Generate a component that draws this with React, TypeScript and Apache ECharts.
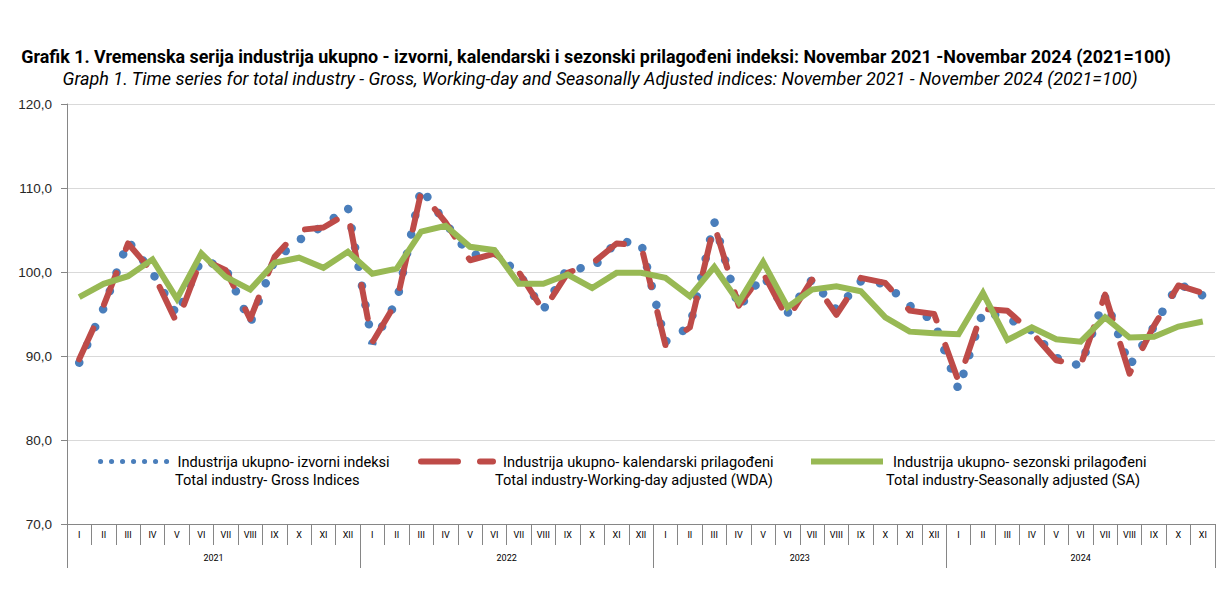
import React, { useEffect, useRef } from "react";
import * as echarts from "echarts";

const monthNames = ["I", "II", "III", "IV", "V", "VI", "VII", "VIII", "IX", "X", "XI", "XII"];
const years = ["2021", "2022", "2023", "2024"];
const monthsPerYear = [12, 12, 12, 11];

const grossIndex = [
  89.2, 95.7, 103.7, 99.9, 94.9, 101.5, 100.4, 93.9, 101.4, 103.8, 105.5, 107.7,
  91.5, 96.5, 110.0, 105.8, 102.0, 102.3, 99.8, 95.5, 100.5, 100.4, 103.6, 103.5,
  91.7, 93.5, 106.0, 95.7, 99.6, 95.1, 99.1, 95.5, 98.9, 98.6, 96.0, 94.1,
  86.0, 95.3, 94.5, 93.0, 89.8, 88.8, 97.0, 88.8, 93.5, 98.6, 97.2,
];
const wdaIndex = [
  89.6, 96.0, 103.4, 100.0, 93.9, 101.6, 100.2, 94.4, 101.8, 105.0, 105.3, 107.0,
  91.6, 96.5, 109.5, 105.9, 101.4, 102.2, 100.0, 95.4, 99.9, 101.0, 103.4, 103.2,
  91.3, 93.4, 105.6, 96.0, 99.9, 94.4, 99.1, 94.9, 99.3, 98.7, 95.4, 95.0,
  87.0, 95.6, 95.4, 92.8, 89.5, 88.9, 97.3, 87.9, 93.6, 98.4, 97.5,
];
const saIndex = [
  97.0, 98.6, 99.5, 101.5, 96.8, 102.2, 99.4, 97.9, 101.1, 101.7, 100.5, 102.4,
  99.8, 100.4, 104.8, 105.5, 103.0, 102.6, 98.6, 98.6, 99.7, 98.1, 99.9, 99.9,
  99.3, 97.1, 100.6, 96.4, 101.2, 95.8, 97.9, 98.3, 97.7, 94.6, 92.9, 92.7,
  92.6, 97.5, 91.9, 93.4, 92.0, 91.7, 94.6, 92.2, 92.3, 93.5, 94.1,
];

const nameGross = "Industrija ukupno- izvorni indeksi";
const nameWda = "Industrija ukupno- kalendarski prilagođeni";
const nameSa = "Industrija ukupno- sezonski prilagođeni";
const enGross = "Total industry- Gross Indices";
const enWda = "Total industry-Working-day adjusted (WDA)";
const enSa = "Total industry-Seasonally adjusted (SA)";

const titleText =
  "Grafik 1. Vremenska serija industrija ukupno - izvorni, kalendarski i sezonski prilagođeni indeksi: Novembar 2021 -Novembar 2024 (2021=100)";
const subtitleText =
  "Graph 1. Time series for total industry - Gross, Working-day and Seasonally Adjusted indices: November 2021 - November 2024 (2021=100)";

const BLUE = "#4a7ebb";
const RED = "#be4b48";
const GREEN = "#98b954";
const FONT = "Roboto, 'Liberation Sans', sans-serif";

export default function App() {
  const ref = useRef<HTMLDivElement>(null);

  useEffect(() => {
    if (!ref.current) return;
    const chart = echarts.init(ref.current, undefined, { renderer: "svg" });

    const categories: string[] = [];
    years.forEach((_, i) => categories.push(...monthNames.slice(0, monthsPerYear[i])));
    const yearBounds: number[] = [0];
    monthsPerYear.forEach((n) => yearBounds.push(yearBounds[yearBounds.length - 1] + n));
    const yearMids = years.map((_, i) => (yearBounds[i] + yearBounds[i + 1]) / 2);
    const total = yearBounds[yearBounds.length - 1];

    const legendBase = {
      top: 454,
      padding: 0,
      itemHeight: 14,
      itemGap: 0,
      selectedMode: false,
      textStyle: { fontSize: 14.6, fontFamily: FONT, color: "#000", padding: [0, 0, 0, 5] },
    };

    chart.setOption({
      animation: false,
      backgroundColor: "#fff",
      title: [
        {
          text: titleText,
          left: 596,
          textAlign: "center",
          top: 47,
          padding: 0,
          textStyle: { fontSize: 17.9, fontWeight: "bold", fontFamily: FONT, color: "#000" },
        },
        {
          text: subtitleText,
          left: 600,
          textAlign: "center",
          top: 69,
          padding: 0,
          textStyle: { fontSize: 18, fontWeight: "normal", fontStyle: "italic", fontFamily: FONT, color: "#000" },
        },
      ],
      legend: [
        {
          ...legendBase,
          left: 98,
          itemWidth: 67,
          data: [
            {
              name: nameGross,
              itemStyle: { opacity: 0 },
              lineStyle: { color: BLUE, width: 5, type: [0.1, 10.9], cap: "round" },
            },
          ],
        },
        {
          ...legendBase,
          left: 418,
          itemWidth: 72,
          data: [
            {
              name: nameWda,
              itemStyle: { opacity: 0 },
              lineStyle: { color: RED, width: 6, type: [37, 22], cap: "round" },
            },
          ],
        },
        {
          ...legendBase,
          left: 808,
          itemWidth: 72,
          data: [
            {
              name: nameSa,
              itemStyle: { opacity: 0 },
              lineStyle: { color: GREEN, width: 6, type: "solid" },
            },
          ],
        },
      ],
      graphic: [
        { type: "text", left: 175, top: 472, style: { text: enGross, fontSize: 14.6, fontFamily: FONT, fill: "#000" } },
        { type: "text", left: 495, top: 472, style: { text: enWda, fontSize: 14.6, fontFamily: FONT, fill: "#000" } },
        { type: "text", left: 886, top: 472, style: { text: enSa, fontSize: 14.6, fontFamily: FONT, fill: "#000" } },
      ],
      grid: { left: 67, right: 1, top: 104, bottom: 73, containLabel: false },
      xAxis: [
        {
          type: "category",
          data: categories,
          boundaryGap: true,
          axisLine: { show: true, lineStyle: { color: "#868686", width: 1 } },
          axisTick: { show: true, interval: 0, length: 21, lineStyle: { color: "#868686" } },
          axisLabel: { interval: 0, fontSize: 9, color: "#000", fontFamily: FONT, margin: 6 },
          splitLine: { show: false },
        },
        {
          type: "value",
          min: 0,
          max: total,
          position: "bottom",
          axisLine: { show: false },
          splitLine: { show: false },
          axisTick: { show: true, customValues: yearBounds, length: 44, lineStyle: { color: "#868686" } },
          axisLabel: {
            show: true,
            customValues: yearMids,
            fontSize: 9,
            color: "#000",
            fontFamily: FONT,
            margin: 29,
            formatter: (v: number) => {
              const idx = yearMids.findIndex((m) => Math.abs(m - v) < 0.01);
              return idx >= 0 ? years[idx] : "";
            },
          },
        },
      ],
      yAxis: {
        type: "value",
        min: 70,
        max: 120,
        interval: 10,
        axisLine: { show: true, lineStyle: { color: "#868686", width: 1 } },
        axisTick: { show: true, length: 6, lineStyle: { color: "#868686" } },
        axisLabel: {
          fontSize: 13.5,
          color: "#262626",
          fontFamily: "'Liberation Sans', sans-serif",
          margin: 15,
          formatter: (v: number) => v.toFixed(1).replace(".", ","),
        },
        splitLine: { show: true, lineStyle: { color: "#d9d9d9", width: 1 } },
      },
      series: [
        {
          name: nameGross,
          type: "line",
          xAxisIndex: 0,
          data: grossIndex,
          symbol: "none",
          z: 2,
          lineStyle: { color: BLUE, width: 8.5, type: [0.1, 19.4], cap: "round" },
          itemStyle: { color: BLUE },
        },
        {
          name: nameWda,
          type: "line",
          xAxisIndex: 0,
          data: wdaIndex,
          symbol: "none",
          z: 3,
          lineStyle: { color: RED, width: 6, type: [34, 26], cap: "round", join: "round" },
          itemStyle: { color: RED },
        },
        {
          name: nameSa,
          type: "line",
          xAxisIndex: 0,
          data: saIndex,
          symbol: "none",
          z: 4,
          lineStyle: { color: GREEN, width: 6, type: "solid", join: "miter" },
          itemStyle: { color: GREEN },
        },
      ],
    });

    return () => chart.dispose();
  }, []);

  return (
    <div
      ref={ref}
      style={{ position: "fixed", left: 0, top: 0, width: 1216, height: 597 }}
    />
  );
}
